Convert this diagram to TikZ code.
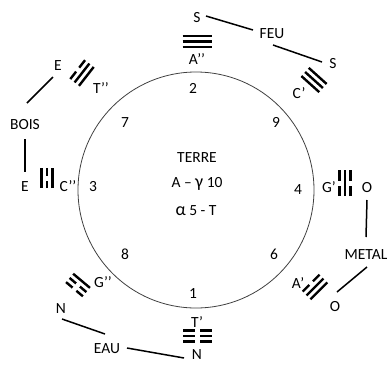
\documentclass[tikz,border=0pt]{standalone}
\usepackage{fontspec}
\setmainfont{Carlito}
\newcommand\tgline[3]{%
  \ifnum#3=1 \draw[trig] (-#2/2,#1) -- (#2/2,#1);%
  \else \draw[trig] (-#2/2,#1) -- (-2.5,#1) (2.5,#1) -- (#2/2,#1);\fi}
\newcommand\trigram[7]{%
  \begin{scope}[shift={(#1,#2)},rotate=#3]
    \tgline{-5.5}{#4}{#5}\tgline{0}{#4}{#6}\tgline{5.5}{#4}{#7}
  \end{scope}}
\begin{document}
\begin{tikzpicture}[x=1pt,y=-1pt,
  lbl/.style={font=\fontsize{15.5}{17}\selectfont, inner sep=1pt},
  conn/.style={line width=1.5pt},
  trig/.style={line width=2.4pt}]
\useasboundingbox (0,0) rectangle (389,365);
\node[circle, draw=black!75, line width=0.8pt, minimum size=236pt, inner sep=0pt] (circ) at (196,190) {};
% numbers
\node[lbl] (n2) at (193,88) {2};
\node[lbl] (n9) at (276,122) {9};
\node[lbl] (n4) at (298,190) {4};
\node[lbl] (n6) at (274,254) {6};
\node[lbl] (n1) at (193,294) {1};
\node[lbl] (n8) at (125,254) {8};
\node[lbl] (n3) at (93,187) {3};
\node[lbl] (n7) at (125,123) {7};
% centre
\node[lbl] (terre) at (197,158) {TERRE};
\node[lbl] (l2) at (197,184) {A – {\fontsize{18}{18}\selectfont γ} 10};
\node[lbl] (l3) at (196,211) {{\fontsize{18}{18}\selectfont α} 5 - T};
% trigram labels
\node[lbl] (ta) at (197,59) {A’\kern0pt’};
\node[lbl] (tc) at (299,93) {C’};
\node[lbl] (tg) at (329,187) {G’};
\node[lbl] (taa) at (298,283) {A’};
\node[lbl] (tt) at (197,322) {T’};
\node[lbl] (tgg) at (103,282) {G’\kern0pt’};
\node[lbl] (tcc) at (68,186) {C’\kern0pt’};
\node[lbl] (ttt) at (101,88) {T’\kern0pt’};
% outer labels
\node[lbl] (s1) at (197,18) {S};
\node[lbl] (feu) at (272,34) {FEU};
\node[lbl] (s2) at (333,64) {S};
\node[lbl] (o1) at (367,188) {O};
\node[lbl] (metal) at (366,255) {METAL};
\node[lbl] (o2) at (335,307) {O};
\node[lbl] (n1a) at (61,309) {N};
\node[lbl] (eau) at (107,349) {EAU};
\node[lbl] (n1b) at (197,355) {N};
\node[lbl] (e1) at (58,66) {E};
\node[lbl] (bois) at (25,125) {BOIS};
\node[lbl] (e2) at (25,187) {E};
% connectors
\draw[conn] ([shift={(9,-2)}]s1.center) -- ([shift={(-19,-4)}]feu.center);
\draw[conn] ([shift={(1,11)}]feu.center) -- ([shift={(-11,-2)}]s2.center);
\draw[conn] ([shift={(0,12)}]o1.center) -- ([shift={(0,-18)}]metal.center);
\draw[conn] ([shift={(1,12)}]metal.center) -- ([shift={(2,-15)}]o2.center);
\draw[conn] ([shift={(1,10)}]n1a.center) -- ([shift={(-2,-15)}]eau.center);
\draw[conn] ([shift={(20,-1)}]eau.center) -- ([shift={(-13,3)}]n1b.center);
\draw[conn] ([shift={(-5,11)}]e1.center) -- ([shift={(2,-22)}]bois.center);
\draw[conn] ([shift={(0,14)}]bois.center) -- ([shift={(0,-15)}]e2.center);
% trigrams
\trigram{197}{41.5}{0}{29}{1}{1}{1}
\trigram{197.5}{336}{0}{29}{0}{0}{0}
\trigram{47}{178}{90}{20}{1}{0}{1}
\trigram{345}{183}{90}{26}{0}{1}{0}
\trigram{82}{73}{52}{24}{0}{1}{1}
\trigram{314}{80}{-42}{24}{1}{1}{1}
\trigram{78}{285}{-40}{22}{1}{0}{0}
\trigram{315}{287}{45}{24}{0}{1}{1}
\end{tikzpicture}
\end{document}
